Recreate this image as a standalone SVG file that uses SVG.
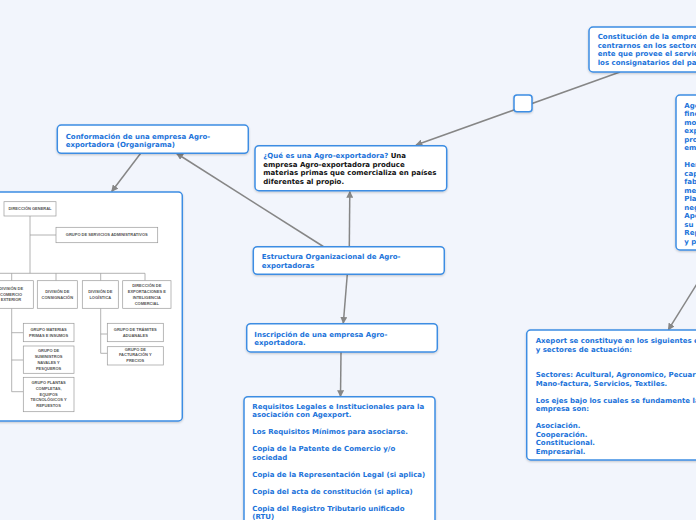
<svg xmlns="http://www.w3.org/2000/svg" width="696" height="520" viewBox="0 0 696 520">
<defs>
<style>
.bg{fill:#f2f5fc}
.node{fill:#fff;stroke:#3c8de3;stroke-width:1.5;filter:url(#sh)}
.t{font-family:"DejaVu Sans",Verdana,sans-serif;font-size:7px;font-weight:bold;fill:#1b73da}
.k{fill:#111}
.edge{stroke:#868686;stroke-width:1.5;fill:none;marker-end:url(#arr)}
.oc rect{fill:#fff;stroke:#9a9a9a;stroke-width:0.7}
.oc path{stroke:#a0a0a0;stroke-width:0.8;fill:none}
.ot{font-family:"Liberation Sans",Arial,sans-serif;font-size:4px;font-weight:bold;fill:#555;text-anchor:middle}
</style>
<filter id="sh" x="-10%" y="-10%" width="120%" height="130%">
<feDropShadow dx="0" dy="1" stdDeviation="0.8" flood-color="#000" flood-opacity="0.2"/>
</filter>
<marker id="arr" viewBox="0 0 10 10" refX="9" refY="5" markerWidth="7" markerHeight="7" orient="auto" markerUnits="userSpaceOnUse">
<path d="M0,0 L10,5 L0,10 z" fill="#868686"/>
</marker>
</defs>
<rect class="bg" x="0" y="0" width="696" height="520"/>

<g id="connectors">
<line class="edge" x1="620" y1="72" x2="416" y2="145"/>
<line class="edge" x1="349.3" y1="246.7" x2="349.8" y2="191.5"/>
<line class="edge" x1="323.3" y1="246.5" x2="176.7" y2="153.5"/>
<line class="edge" x1="140.7" y1="153.3" x2="111.7" y2="191.5"/>
<line class="edge" x1="347.3" y1="274.3" x2="343.3" y2="323.3"/>
<line class="edge" x1="341" y1="352" x2="340.5" y2="396.5"/>
<line class="edge" x1="718" y1="250" x2="668.3" y2="329.8"/>
</g>

<g id="n_empty">
<rect class="node" x="514" y="95" width="18" height="16.7" rx="3"/>
</g>

<g id="n_constitucion">
<rect class="node" x="589" y="27" width="140" height="45" rx="4"/>
<text class="t" x="597.7" y="39"><tspan x="597.7">Constitución de la empresa</tspan><tspan x="597.7" dy="8.5">centrarnos en los sectores</tspan><tspan x="597.7" dy="8.5">ente que provee el servicio</tspan><tspan x="597.7" dy="8.5">los consignatarios del país</tspan></text>
</g>

<g id="n_agexport">
<rect class="node" x="676" y="95" width="100" height="155" rx="4"/>
<text class="t" x="684.3" y="107.5"><tspan x="684.3">Age</tspan><tspan x="684.3" dy="8.5">fine</tspan><tspan x="684.3" dy="8.5">mo</tspan><tspan x="684.3" dy="8.5">exp</tspan><tspan x="684.3" dy="8.5">pro</tspan><tspan x="684.3" dy="8.5">em</tspan><tspan x="684.3" dy="17">Her</tspan><tspan x="684.3" dy="8.5">cap</tspan><tspan x="684.3" dy="8.5">fab</tspan><tspan x="684.3" dy="8.5">me</tspan><tspan x="684.3" dy="8.5">Pla</tspan><tspan x="684.3" dy="8.5">neg</tspan><tspan x="684.3" dy="8.5">Ape</tspan><tspan x="684.3" dy="8.5">su</tspan><tspan x="684.3" dy="8.5">Rep</tspan><tspan x="684.3" dy="8.5">y p</tspan></text>
</g>

<g id="n_que">
<rect class="node" x="255" y="145.7" width="191.7" height="45" rx="4"/>
<text class="t" x="263.3" y="158.2"><tspan x="263.3">¿Qué es una Agro-exportadora?</tspan><tspan class="k"> Una</tspan><tspan class="k" x="263.3" dy="8.6">empresa Agro-exportadora produce</tspan><tspan class="k" x="263.3" dy="8.6">materias primas que comercializa en países</tspan><tspan class="k" x="263.3" dy="8.6">diferentes al propio.</tspan></text>
</g>

<g id="n_estructura">
<rect class="node" x="253.3" y="246.7" width="191" height="27.6" rx="4"/>
<text class="t" x="261.7" y="259.2"><tspan x="261.7">Estructura Organizacional de Agro-</tspan><tspan x="261.7" dy="9">exportadoras</tspan></text>
</g>

<g id="n_inscripcion">
<rect class="node" x="246.7" y="323.7" width="190.6" height="28.3" rx="4"/>
<text class="t" x="254.3" y="336.5"><tspan x="254.3">Inscripción de una empresa Agro-</tspan><tspan x="254.3" dy="8.7">exportadora.</tspan></text>
</g>

<g id="n_conformacion">
<rect class="node" x="57.3" y="125" width="191" height="28.3" rx="4"/>
<text class="t" x="65.7" y="138.5"><tspan x="65.7">Conformación de una empresa Agro-</tspan><tspan x="65.7" dy="8.4">exportadora (Organigrama)</tspan></text>
</g>

<g id="n_organigrama">
<rect class="node" x="-10" y="192" width="192.3" height="229" rx="4"/>
<g class="oc">
<path d="M30,216 V273.3 M30,235 H56 M0,273.3 H145 M11.7,273.3 V280.7 M56,273.3 V280.7 M100.7,273.3 V280.7 M145,273.3 V280.7 M11.7,308.3 V391.7 M11.7,332.7 H23.3 M11.7,360 H23.3 M11.7,391.7 H23.3 M100.7,308.3 V353.3 M100.7,334 H107.3 M100.7,353.3 H107.3"/>
<rect x="4" y="201.7" width="52" height="14.3"/>
<rect x="56" y="227.3" width="101.7" height="15.4"/>
<rect x="-12" y="280.7" width="45.3" height="27.6"/>
<rect x="37.3" y="280.7" width="40" height="27.6"/>
<rect x="82.3" y="280.7" width="36" height="27.6"/>
<rect x="122.7" y="280.7" width="48.3" height="27.6"/>
<rect x="23.3" y="323.3" width="50.7" height="18.4"/>
<rect x="23.3" y="346" width="50.7" height="27.3"/>
<rect x="23.3" y="377.3" width="50.7" height="34.4"/>
<rect x="107.3" y="323.3" width="56" height="18.4"/>
<rect x="107.3" y="346.7" width="56" height="18.3"/>
</g>
<text class="ot" x="30" y="210.3">DIRECCIÓN GENERAL</text>
<text class="ot" x="106.8" y="236.3">GRUPO DE SERVICIOS ADMINISTRATIVOS</text>
<text class="ot" y="290.4"><tspan x="11">DIVISIÓN DE</tspan><tspan x="11" dy="5.2">COMERCIO</tspan><tspan x="11" dy="5.2">EXTERIOR</tspan></text>
<text class="ot" y="293"><tspan x="57.3">DIVISIÓN DE</tspan><tspan x="57.3" dy="5.6">CONSIGNACIÓN</tspan></text>
<text class="ot" y="293"><tspan x="100.3">DIVISIÓN DE</tspan><tspan x="100.3" dy="5.6">LOGÍSTICA</tspan></text>
<text class="ot" y="287"><tspan x="146.8">DIRECCIÓN DE</tspan><tspan x="146.8" dy="5.9">EXPORTACIONES E</tspan><tspan x="146.8" dy="5.9">INTELIGENCIA</tspan><tspan x="146.8" dy="5.9">COMERCIAL</tspan></text>
<text class="ot" y="330.8"><tspan x="48.6">GRUPO MATERIAS</tspan><tspan x="48.6" dy="5.8">PRIMAS E INSUMOS</tspan></text>
<text class="ot" y="352"><tspan x="48.6">GRUPO DE</tspan><tspan x="48.6" dy="5.9">SUMINISTROS</tspan><tspan x="48.6" dy="5.9">NAVALES Y</tspan><tspan x="48.6" dy="5.9">PESQUEROS</tspan></text>
<text class="ot" y="384"><tspan x="48.6">GRUPO PLANTAS</tspan><tspan x="48.6" dy="5.75">COMPLETAS,</tspan><tspan x="48.6" dy="5.75">EQUIPOS</tspan><tspan x="48.6" dy="5.75">TECNOLÓGICOS Y</tspan><tspan x="48.6" dy="5.75">REPUESTOS</tspan></text>
<text class="ot" y="331.3"><tspan x="135.3">GRUPO DE TRÁMITES</tspan><tspan x="135.3" dy="5.7">ADUANALES</tspan></text>
<text class="ot" y="350.6"><tspan x="135.3">GRUPO DE</tspan><tspan x="135.3" dy="5.8">FACTURACIÓN Y</tspan><tspan x="135.3" dy="5.8">PRECIOS</tspan></text>
</g>

<g id="n_requisitos">
<rect class="node" x="244" y="396.7" width="191" height="140" rx="4"/>
<text class="t" x="252.3" y="408.5"><tspan x="252.3">Requisitos Legales e Institucionales para la</tspan><tspan x="252.3" dy="8.5">asociación con Agexport.</tspan><tspan x="252.3" dy="17">Los Requisitos Mínimos para asociarse.</tspan><tspan x="252.3" dy="17">Copia de la Patente de Comercio y/o</tspan><tspan x="252.3" dy="8.5">sociedad</tspan><tspan x="252.3" dy="17">Copia de la Representación Legal (si aplica)</tspan><tspan x="252.3" dy="17">Copia del acta de constitución (si aplica)</tspan><tspan x="252.3" dy="17">Copia del Registro Tributario unificado</tspan><tspan x="252.3" dy="8.5">(RTU)</tspan></text>
</g>

<g id="n_axeport">
<rect class="node" x="526.7" y="330" width="200" height="130" rx="4"/>
<text class="t" x="535.7" y="343.2"><tspan x="535.7">Axeport se constituye en los siguientes ejes</tspan><tspan x="535.7" dy="8.5">y sectores de actuación:</tspan><tspan x="535.7" dy="25.5">Sectores: Acultural, Agronomico, Pecuario,</tspan><tspan x="535.7" dy="8.5">Mano-factura, Servicios, Textiles.</tspan><tspan x="535.7" dy="17">Los ejes bajo los cuales se fundamente la</tspan><tspan x="535.7" dy="8.5">empresa son:</tspan><tspan x="535.7" dy="17">Asociación.</tspan><tspan x="535.7" dy="8.5">Cooperación.</tspan><tspan x="535.7" dy="8.5">Constitucional.</tspan><tspan x="535.7" dy="8.5">Empresarial.</tspan></text>
</g>
</svg>
